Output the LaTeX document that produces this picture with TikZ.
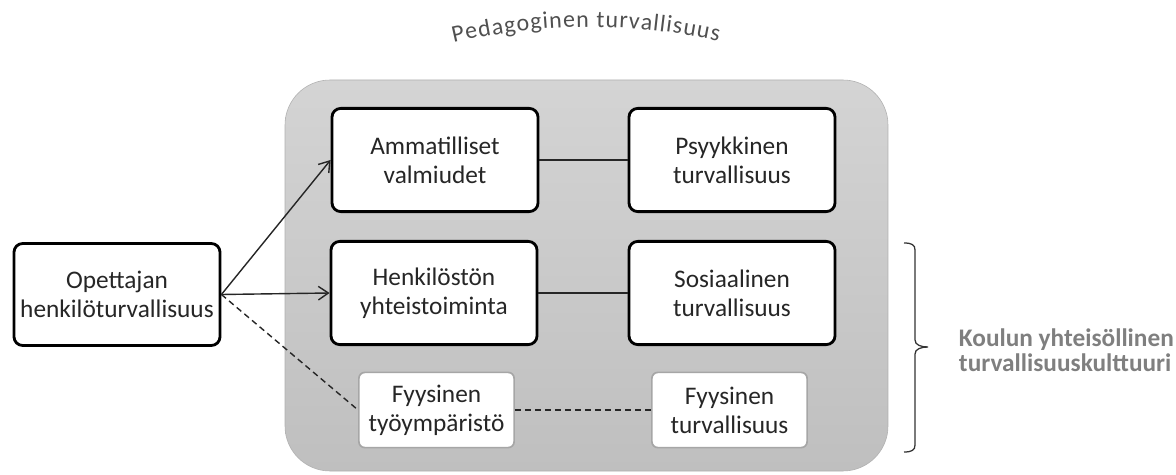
\documentclass[tikz,border=0pt]{standalone}
\usepackage{fontspec}
\setmainfont{Carlito}
\usepackage{xcolor}
\definecolor{panelTop}{HTML}{D4D4D4}
\definecolor{panelBot}{HTML}{BFBFBF}
\definecolor{panelEdge}{HTML}{B0B0B0}
\definecolor{softEdge}{HTML}{A6A6A6}
\definecolor{labelGray}{HTML}{7F7F7F}
\definecolor{arcGray}{HTML}{505050}
\usetikzlibrary{arrows.meta,decorations.text}

\begin{document}
\begin{tikzpicture}[x=0.025cm, y=0.025cm,
    >={Straight Barb[length=0.25cm,width=0.34cm]},
    box/.style={draw=black, line width=2pt, rounded corners=0.22cm, fill=white,
      align=center, minimum width=5.15cm, minimum height=2.58cm, text=black!85,
      font=\fontsize{18}{20.6}\selectfont},
    softbox/.style={box, draw=softEdge, line width=1.2pt, rounded corners=0.15cm,
      minimum width=3.88cm, minimum height=1.88cm},
    link/.style={line width=1.4pt, black!85},
    feed/.style={->, line width=1pt, black!85},
    weak/.style={line width=1pt, black!85, dash pattern=on 0.15cm off 0.1cm}]
  \useasboundingbox (0,0) rectangle (1176,474);

  % ---- shaded panel ----
  \shade[top color=panelTop, bottom color=panelBot, draw=panelEdge,
    rounded corners=1.125cm] (285,3) rectangle (888,394);

  % ---- arched title ----
  \path[decorate, decoration={text along path, text align={fit to path},
      text={|\fontsize{17}{17}\selectfont\color{arcGray}|Pedagoginen turvallisuus}}]
    (590,-146) ++(103.3:593) arc[start angle=103.3, end angle=77.5, radius=593];

  % ---- boxes ----
  \node[box, minimum height=2.55cm] (opet) at (117,179.5) {Opettajan\\henkilöturvallisuus};
  \node[box] (amm)  at (435,314) {Ammatilliset\\valmiudet};
  \node[box] (psy)  at (732,314) {Psyykkinen\\turvallisuus};
  \node[box] (henk) at (434,181) {Henkilöstön\\yhteistoiminta};
  \node[box] (sos)  at (732,181) {Sosiaalinen\\turvallisuus};
  \node[softbox] (fty) at (436.5,64) {Fyysinen\\työympäristö};
  \node[softbox] (ftu) at (729.5,64) {Fyysinen\\turvallisuus};

  % ---- links ----
  \draw[link] (amm) -- (psy);
  \draw[link] (henk) -- (sos);
  \draw[feed] (opet.east) -- (amm.west);
  \draw[feed] (opet.east) -- (henk.west);
  \draw[weak] (opet.east) -- (fty.west);
  \draw[weak] (fty) -- (ftu);

  % ---- brace and culture label ----
  \coordinate (bTop) at (904,231);
  \coordinate (bTip) at (928,127);
  \coordinate (bBot) at (904,22);
  \draw[line width=0.9pt, black!80]
    (bTop) .. controls (912,231) and (915,229) .. (915,224)
    -- (915,134) .. controls (915,129) and (921,127) .. (bTip)
    .. controls (921,127) and (915,125) .. (915,120)
    -- (915,29) .. controls (915,24) and (912,22) .. (bBot);
  \node[anchor=west, align=left, text=labelGray,
    font=\bfseries\fontsize{18}{17.4}\selectfont] (kult) at (954,124)
    {Koulun yhteisöllinen\\turvallisuuskulttuuri};
\end{tikzpicture}
\end{document}
